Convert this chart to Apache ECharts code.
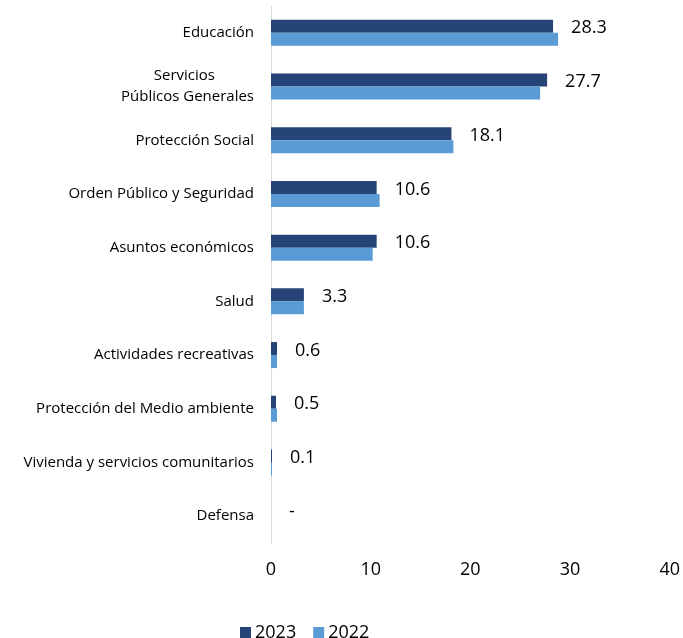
<!DOCTYPE html>
<html>
<head>
<meta charset="utf-8">
<script src="https://cdn.jsdelivr.net/npm/echarts@6/dist/echarts.min.js"></script>
<style>
  html, body { margin: 0; padding: 0; background: #fff; }
  #chart { width: 683px; height: 638px; }
</style>
</head>
<body>
<div id="chart"></div>
<script>
// Spending categories, top to bottom
const categories = [
  'Educación',
  'Servicios\nPúblicos Generales',
  'Protección Social',
  'Orden Público y Seguridad',
  'Asuntos económicos',
  'Salud',
  'Actividades recreativas',
  'Protección del Medio ambiente',
  'Vivienda y servicios comunitarios',
  'Defensa'
];
// Share by year (%)
const values2023 = [28.3, 27.7, 18.1, 10.6, 10.6, 3.3, 0.6, 0.5, 0.1, 0];
const values2022 = [28.8, 27.0, 18.3, 10.9, 10.2, 3.3, 0.6, 0.6, 0.1, 0];
const seriesNames = ['2023', '2022'];
const xTicks = { min: 0, max: 40, interval: 10 };

const FONT = '"Open Sans", "Noto Sans", sans-serif';
const chart = echarts.init(document.getElementById('chart'));

chart.setOption({
  animation: false,
  grid: { left: 271, right: 13, top: 6, bottom: 95, containLabel: false },
  legend: {
    data: seriesNames,
    left: 240,
    top: 624,
    padding: 0,
    itemWidth: 11,
    itemHeight: 12,
    itemGap: 17,
    icon: 'rect',
    textStyle: { fontFamily: FONT, fontSize: 18, color: '#000', padding: [0, 0, 0, -1] }
  },
  xAxis: {
    type: 'value',
    min: xTicks.min,
    max: xTicks.max,
    interval: xTicks.interval,
    axisLine: { show: false },
    axisTick: { show: false },
    splitLine: { show: false },
    axisLabel: { fontFamily: FONT, fontSize: 18, color: '#000', margin: 18 }
  },
  yAxis: {
    type: 'category',
    inverse: true,
    data: categories,
    axisLine: { show: true, lineStyle: { color: '#d9d9d9', width: 1 } },
    axisTick: { show: false },
    axisLabel: {
      fontFamily: FONT,
      fontSize: 15,
      color: '#000',
      margin: 17,
      lineHeight: 21,
      formatter: function (v) {
        if (v.indexOf('\n') >= 0) {
          const parts = v.split('\n');
          return '{a|' + parts[0] + '}\n{b|' + parts[1] + '}';
        }
        return v;
      },
      rich: {
        a: { fontFamily: FONT, fontSize: 15, color: '#000', padding: [0, 39, 0, 0], lineHeight: 21 },
        b: { fontFamily: FONT, fontSize: 15, color: '#000', lineHeight: 21 }
      }
    }
  },
  series: [
    {
      name: seriesNames[0],
      type: 'bar',
      data: values2023,
      barWidth: 13,
      barGap: '0%',
      itemStyle: { color: '#264478' },
      label: {
        show: true,
        position: 'right',
        distance: 18,
        offset: [0, 2],
        fontFamily: FONT,
        fontSize: 18,
        color: '#000',
        formatter: function (p) { return p.value === 0 ? '-' : p.value.toFixed(1); }
      }
    },
    {
      name: seriesNames[1],
      type: 'bar',
      data: values2022,
      barWidth: 13,
      barGap: '0%',
      itemStyle: { color: '#5b9bd5' }
    }
  ]
});
</script>
</body>
</html>
